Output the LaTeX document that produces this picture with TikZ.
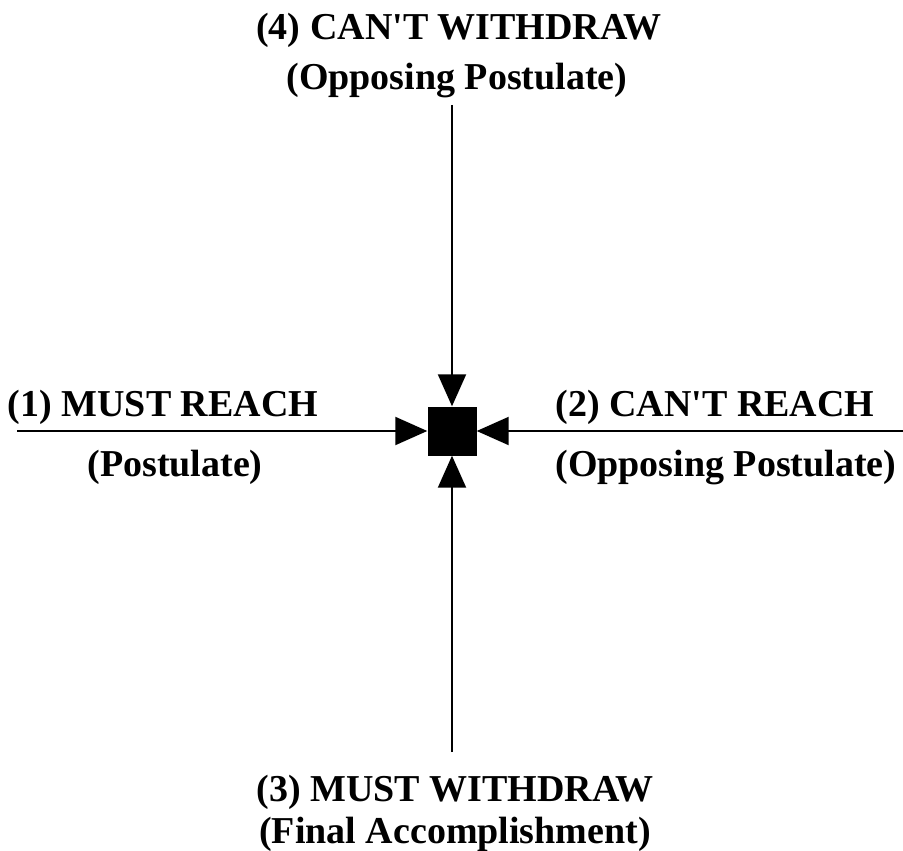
\documentclass[tikz,border=0pt]{standalone}
\usepackage{fontspec}
\setmainfont{Liberation Serif}
\usepackage{tikz}
\usetikzlibrary{arrows.meta, positioning}

\begin{document}
\begin{tikzpicture}[x=1pt, y=-1pt,
			hub/.style={rectangle, fill=black, minimum size=49pt, inner sep=0pt},
			label/.style={font=\fontsize{38}{44}\selectfont\bfseries, inner sep=0pt, anchor=base},
			arrow/.style={-{Triangle[length=32pt, width=28pt]}, line width=2pt},
			]
			\useasboundingbox (0,0) rectangle (903,851);
			
			% ---- centre and free ends ----
			\node[hub] (hub) at (452,431) {};
			\coordinate (westend) at (17,431);
			\coordinate (eastend) at (903,431);
			\coordinate (northend) at (452,105);
			\coordinate (southend) at (452,752);
			
			\draw[arrow] (westend) -- (hub);
			\draw[arrow] (eastend) -- (hub);
			\draw[arrow] (northend) -- (hub);
			\draw[arrow] (southend) -- (hub);
			
			% ---- labels ----
			\node[label] (mustreach) at (163,416) {(1) MUST REACH};
			\node[label] (postulate) at (175,476) {(Postulate)};
			\node[label] (cantreach) at (715,416) {(2) CAN\textquotesingle T REACH};
			\node[label] (opposingr) at (726,476) {(Opposing Postulate)};
			\node[label] (mustwithdraw) at (455,801) {(3) MUST WITHDRAW};
			\node[label] (final) at (455,843) {(Final Accomplishment)};
			\node[label] (cantwithdraw) at (459,40) {(4) CAN\textquotesingle T WITHDRAW};
			\node[label] (opposingt) at (457,90) {(Opposing Postulate)};
			
		\end{tikzpicture}
\end{document}
